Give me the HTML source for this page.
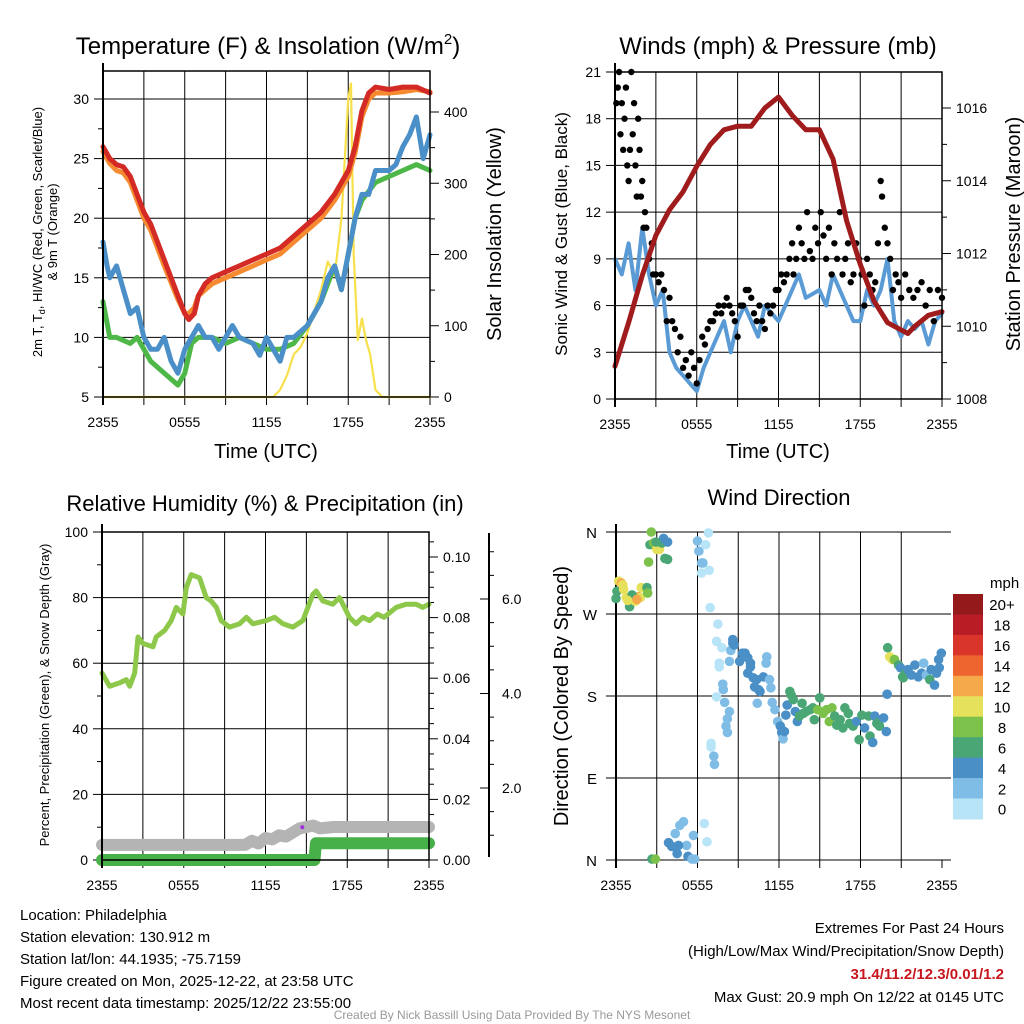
<!DOCTYPE html>
<html><head><meta charset="utf-8"><style>
html,body{margin:0;padding:0;background:#fff;}
svg{display:block;font-family:"Liberation Sans",sans-serif;}
</style></head><body>
<svg id="s" width="1024" height="1024" viewBox="0 0 1024 1024">
<g id="static" fill="#000">
<text x="268" y="54" font-size="24" text-anchor="middle">Temperature (F) &amp; Insolation (W/m<tspan font-size="15" dy="-10">2</tspan><tspan dy="10">)</tspan></text>
<text x="778" y="54" font-size="24" text-anchor="middle">Winds (mph) &amp; Pressure (mb)</text>
<text x="265" y="511" font-size="22" text-anchor="middle">Relative Humidity (%) &amp; Precipitation (in)</text>
<text x="779" y="505" font-size="22" text-anchor="middle">Wind Direction</text>
<text x="266" y="458" font-size="20" text-anchor="middle">Time (UTC)</text>
<text x="778" y="458" font-size="20" text-anchor="middle">Time (UTC)</text>
<text transform="translate(42,232) rotate(-90)" font-size="13" text-anchor="middle">2m T, T<tspan font-size="9" dy="3">d</tspan><tspan dy="-3">, HI/WC (Red, Green, Scarlet/Blue)</tspan></text>
<text transform="translate(57,232) rotate(-90)" font-size="13" text-anchor="middle">&amp; 9m T (Orange)</text>
<text transform="translate(501,234) rotate(-90)" font-size="20" text-anchor="middle">Solar Insolation (Yellow)</text>
<text transform="translate(567,234) rotate(-90)" font-size="17" text-anchor="middle">Sonic Wind &amp; Gust (Blue, Black)</text>
<text transform="translate(1020,234) rotate(-90)" font-size="20" text-anchor="middle">Station Pressure (Maroon)</text>
<text transform="translate(49,695) rotate(-90)" font-size="13" text-anchor="middle">Percent, Precipitation (Green), &amp; Snow Depth (Gray)</text>
<text transform="translate(568,696) rotate(-90)" font-size="20" text-anchor="middle">Direction (Colored By Speed)</text>
<text x="990" y="588" font-size="15">mph</text>
<g font-size="15">
<text x="20" y="920">Location: Philadelphia</text>
<text x="20" y="942">Station elevation: 130.912 m</text>
<text x="20" y="964">Station lat/lon: 44.1935; -75.7159</text>
<text x="20" y="986">Figure created on Mon, 2025-12-22, at 23:58 UTC</text>
<text x="20" y="1008">Most recent data timestamp: 2025/12/22 23:55:00</text>
</g>
<g font-size="15" text-anchor="end">
<text x="1004" y="933">Extremes For Past 24 Hours</text>
<text x="1004" y="956">(High/Low/Max Wind/Precipitation/Snow Depth)</text>
<text x="1004" y="979" fill="#c8161e" font-weight="bold">31.4/11.2/12.3/0.01/1.2</text>
<text x="1004" y="1002">Max Gust: 20.9 mph On 12/22 at 0145 UTC</text>
</g>
<text x="512" y="1019" font-size="12" fill="#999" text-anchor="middle">Created By Nick Bassill Using Data Provided By The NYS Mesonet</text>
</g>
<g id="dyn"></g>
</svg>
<script>
const tRedH=[0,0.5,1,1.5,2,2.5,3,3.5,4,4.5,5,5.5,6,6.3,6.7,7,7.5,8,9,10,11,12,13,14,15,16,17,18,18.5,19,19.5,20,21,22,23,24];
const tRedV=[26,25,24.5,24.3,23.5,22,20.5,19.5,18,16.5,15,13.5,12,11.5,12,13.5,14.5,15,15.5,16,16.5,17,17.5,18.5,19.5,20.5,22,24,26,29,30.5,31,30.8,31,31,30.5];
const tOrgV=[25.6,24.6,24,23.8,23,21.5,20,19,17.5,16,14.6,13.2,12,12,12.5,13.5,14,14.5,15,15.5,16,16.5,17,18,19,20,21.5,23.5,25.5,28.5,30,30.5,30.5,30.6,30.8,30.6];
const tBluH=[0,0.3,0.5,1,1.5,2,2.5,3,3.5,4,4.5,5,5.5,6,6.5,7,7.5,8,8.5,9,9.5,10,11,11.5,12,12.5,13,13.5,14,15,16,16.5,17,17.5,18,18.5,19,19.5,20,21,21.5,22,22.5,23,23.5,24];
const tBluV=[18,16,15,16,14,12,12.5,10,9,9,10,8,7,9,10,11,10,10,9,10,11,10,9.5,8.5,10,9,8,10,10,11,13,15,16,14,17,20,22,22,24,24,24.5,26,27,28.5,25,27];
const tGrnH=[0,0.5,1,2,2.5,3,3.5,4,5,5.5,6,6.5,7,8,9,10,11,12,13,14,15,16,17,17.5,18,18.5,19,20,21,22,23,24];
const tGrnV=[13,10,10,9.5,10,9,8,7.5,6.5,6,7,9.5,10,10,9.5,10,9.5,9,9,9.5,11,13,16,14,17,20,21.5,23,23.5,24,24.5,24];
const solH=[0,12.5,13,13.5,14,14.5,15,15.5,16,16.5,17,17.5,18,18.2,18.4,18.7,19,19.3,19.6,20,20.5,24];
const solV=[0,0,10,30,60,70,90,120,150,190,170,250,420,440,200,80,110,80,60,10,0,0];
const presH=[0,0.5,1,2,3,4,5,6,7,8,9,10,11,12,13,14,15,16,17,18,19,20,21,21.5,22,23,24];
const presV=[1008.9,1009.5,1010.1,1011.4,1012.5,1013.2,1013.7,1014.4,1015,1015.4,1015.5,1015.5,1016,1016.3,1015.8,1015.4,1015.4,1014.6,1012.9,1011.7,1010.7,1010.1,1009.9,1009.8,1010,1010.3,1010.4];
const windH=[0,0.5,1,1.5,2,2.5,3,3.5,4,4.5,5,5.5,6,6.5,7,7.5,8,8.5,9,9.5,10,10.5,11,12,12.5,13,13.5,14,15,15.5,16,16.5,17,17.5,18,18.5,19,19.5,20,20.5,21,21.5,22,22.5,23,23.5,24];
const windV=[9,8,10,7,11,8,6,7,3,2,1.5,1,0.5,2,3,4,5,3,5,6,5,4,6,5,6,7,8,6.5,7,6,8,7,6,5,5,7,6,7,9,5,4,5,4.5,5,3.5,5,5.5];
const gustH=[0.1,0.2,0.3,0.4,0.5,0.6,0.7,0.8,0.9,1,1.1,1.2,1.3,1.4,1.5,1.6,1.7,1.8,1.9,2,2.1,2.2,2.3,2.5,2.7,2.8,3,3.2,3.4,3.6,3.8,4,4.2,4.4,4.6,4.8,5,5.2,5.4,5.6,5.8,6,6.2,6.4,6.6,6.8,7,7.2,7.4,7.6,7.8,8,8.2,8.4,8.6,8.8,9,9.2,9.4,9.6,9.8,10,10.2,10.4,10.6,10.8,11,11.2,11.4,11.6,11.8,12,12.2,12.4,12.6,12.8,13,13.1,13.3,13.5,13.7,13.9,14.1,14.3,14.5,14.7,14.9,15.1,15.3,15.5,15.7,15.9,16.1,16.3,16.5,16.7,16.9,17.1,17.3,17.5,17.7,17.9,18.1,18.3,18.5,18.7,18.9,19.1,19.3,19.5,19.6,19.8,20,20.2,20.4,20.6,20.8,21,21.3,21.6,21.9,22.2,22.5,22.8,23.1,23.4,23.7,24];
const gustV=[19,20,21,17,19,16,18,20,15,14,16,21,17,19,15,13,18,16,13,14,11,12,11,9,10,8,8,7.5,8,7,5,6.5,5,4.5,3,4,2,2.5,1.5,3,2,1,2.5,4,3.5,4.5,5,5,5.5,6,5.5,6,6.5,6,5.5,5,4,6,6,7,7,6.5,5.5,5,6,5,4.5,6,5.5,6,7,7,8,7.5,8,9,10,8,9,11,10,9,12,9.5,9,11,10,12,10.5,9,11,8,10,9,12,8,9,10,7.5,8,10,9,8,6,9,8,7,7.5,10,14,13,11,10,9,7,8,7.5,6.5,8,7,6.5,7,7.5,6,7,5,7,6.5];
const rhH=[0,0.56,1.3,1.78,2.03,2.4,2.64,3.0,3.74,3.98,4.6,5.08,5.45,5.94,6.19,6.55,7.16,7.65,8.0,8.4,8.75,9.36,10.1,10.6,11.08,12.06,12.67,13.28,14.0,14.74,15.48,15.72,16.2,16.94,17.43,18.16,18.65,19.14,19.63,20.2,20.7,21.59,22.32,23.05,23.54,24];
const rhV=[57,53,54,55,53,57,68,66,65,68,70,73,77,75,83,87,86,80,79,77,73,71,72,74,72,73,74,72,71,73,81,82,79,78,80,74,72,74,73,75,74,77,78,78,77,78];
const snowH=[0,10.5,11,11.5,12,12.5,13,13.5,14,14.5,15,15.5,16,17,24];
const snowV=[0.55,0.55,0.7,0.6,0.8,0.75,0.9,0.85,1.0,1.15,1.2,1.25,1.15,1.2,1.2];
const precH=[0,15.6,15.7,24];
const precV=[0,0,0.0055,0.0055];
const dirH=[0,0.07,0.2,0.39,0.56,0.76,1.0,1.18,1.42,1.67,1.79,1.86,2.28,2.33,1.18,0.5,0.86,1.54,2.4,2.5,2.6,2.77,3.0,3.2,3.38,3.5,3.6,3.8,2.95,3.8,2.65,2.9,3.87,4.1,4.36,4.5,4.7,4.97,5.2,5.3,5.6,5.7,5.8,4.6,6.5,6.7,6.0,6.1,6.3,6.4,6.3,6.8,6.6,6.86,6.93,7.5,7.4,7.8,7.6,7.6,7.4,7.86,7.9,8.0,8.35,8.2,8.1,8.2,7.0,7.0,7.2,7.25,8.35,8.45,8.6,8.6,8.7,9.1,9.3,9.5,9.7,9.9,9.9,9.7,10.1,10.2,10.35,10.5,10.6,10.85,11.1,11.05,11.3,11.4,11.5,11.7,11.9,10.4,12.1,12.2,12.3,12.4,12.6,12.5,12.8,12.9,13.05,13.2,13.35,13.5,13.7,13.8,14.0,14.3,14.5,14.6,14.85,15.0,15.25,15.5,15.7,15.9,16.1,16.25,16.5,16.7,16.85,17.1,17.2,17.45,17.7,17.9,18.1,18.3,18.6,18.7,18.9,19.05,19.2,19.4,19.7,19.9,19.96,20.0,20.15,20.35,20.5,20.8,20.95,21.1,21.15,21.3,21.5,21.75,22.0,22.25,22.5,22.65,22.85,23.1,23.2,23.45,23.6,23.75,23.95,23.8];
const dirV=[287,295,306,304,297,288,278,286,284,289,288,299,299,293,291,302,285,286,327,346,360,348,341,341,348,353,331,349,349,330,1,1,19,15,29,7,38,42,16,4,1,27,1,16,40,20,350,339,326,326,315,359,346,318,277,259,240,233,216,212,179,193,187,173,163,155,147,140,128,124,114,105,218,230,242,238,236,218,227,227,222,212,216,205,200,190,198,187,185,201,223,216,198,189,173,165,152,172,147,140,133,141,170,159,185,181,176,163,152,158,172,161,163,165,167,154,165,178,161,165,152,167,158,148,154,145,167,161,150,147,152,132,159,145,158,136,129,158,150,147,156,141,182,233,223,220,220,214,211,201,200,205,209,203,214,201,205,216,203,198,209,192,205,220,227,211];
const dirS=[7,6,10,13,10,10,7,10,10,13,10,10,7,8,7,10,10,13,8,7,8,8,10,10,6,4,6,4,7,6,6,8,4,4,2,4,2,2,2,4,2,2,2,4,0,0,2,2,2,2,0,0,0,0,0,0,0,0,0,0,0,2,2,2,2,2,2,2,0,0,2,2,2,2,4,4,4,4,4,4,4,4,4,4,4,4,4,4,4,4,2,2,2,2,2,2,2,2,4,4,2,4,4,4,6,6,6,4,4,6,6,6,6,6,6,6,8,6,8,8,8,8,6,6,6,6,6,6,6,6,4,6,6,4,6,6,4,4,6,6,4,4,4,6,10,10,8,6,4,6,6,6,4,4,4,4,4,2,2,6,4,4,4,4,4,4];
const cbLabels=["20+","18","16","14","12","10","8","6","4","2","0"];
const cbColors=["#93191b","#b81c24","#d9352a","#ef6530","#f6a94a","#e6e15a","#7cc14a","#4aa674","#4a8fc6","#7fbde6","#b8e4f8"];
const timeLabels=["2355","0555","1155","1755","2355"];

const NS="http://www.w3.org/2000/svg";
const root=document.getElementById('dyn');
function mk(tag,attrs,parent){const e=document.createElementNS(NS,tag);for(const k in attrs)e.setAttribute(k,attrs[k]);(parent||root).appendChild(e);return e;}
function lin(d0,d1,r0,r1){return v=>r0+(v-d0)*(r1-r0)/(d1-d0);}

function frame(name,x0,x1,y0,y1){
  const g=mk('g',{});
  
  
  const xs=lin(0,24,x0,x1);
  for(let h=3;h<24;h+=3){const l=mk('line',{x1:xs(h),x2:xs(h),y1:y0,y2:y1+8,stroke:'#000','stroke-width':1},g);
    
    }
  mk('line',{x1:xs(0),x2:xs(0),y1:y1,y2:y1+8,stroke:'#000'},g);
  mk('line',{x1:xs(24),x2:xs(24),y1:y1,y2:y1+8,stroke:'#000'},g);
  timeLabels.forEach((t,i)=>{const tx=mk('text',{x:xs(i*6),y:y1+30,'font-size':14,'text-anchor':'middle'},g);tx.textContent=t;
    
    });
  return {g,xs};
}
function path(xsA,ysA,xf,yf,stroke,w,name){
  let d='';xsA.forEach((h,i)=>{d+=(i?'L':'M')+xf(h).toFixed(1)+','+yf(ysA[i]).toFixed(1);});
  const p=mk('path',{d,fill:'none',stroke,'stroke-width':w,'stroke-linejoin':'round','stroke-linecap':'round'});
  
  
  return p;
}
function yTicks(g,vals,yf,x,dir,labelFn,grid,x2,fs){
  vals.forEach(v=>{const y=yf(v);
    mk('line',{x1:x,x2:x+dir*9,y1:y,y2:y,stroke:'#000'},g);
    if(grid){const gl=mk('line',{x1:x,x2:x2,y1:y,y2:y,stroke:'#000','stroke-width':1},g);
      
      }
    const t=mk('text',{x:x+dir*14,y:y+5,'font-size':fs||14,'text-anchor':dir<0?'end':'start'},g);t.textContent=labelFn(v);
    
    });
}
function minor(g,vals,yf,x,dir){vals.forEach(v=>mk('line',{x1:x,x2:x+dir*5,y1:yf(v),y2:yf(v),stroke:'#000'},g));}

{const X0=103,X1=430,Y0=71,Y1=397;const f=frame('temperature',X0,X1,Y0,Y1);const g=f.g,xs=f.xs;
 const yT=lin(5,30,397,99), yS=lin(0,400,397,112);
 yTicks(g,[5,10,15,20,25,30],yT,X0,-1,v=>v,true,X1);
 minor(g,[7.5,12.5,17.5,22.5,27.5],yT,X0,-1);
 yTicks(g,[0,100,200,300,400],yS,X1,1,v=>v,false);
 minor(g,[50,150,250,350],yS,X1,1);
 path(solH,solV,xs,yS,'#f7e04a',2.2,'insolation-line');
 path(tGrnH,tGrnV,xs,yT,'#4db848',5,'dewpoint-line');
 path(tBluH,tBluV,xs,yT,'#4a8fc8',5,'windchill-line');
 path(tRedH,tOrgV,xs,yT,'#f58a30',5,'temp-9m-line');
 path(tRedH,tRedV,xs,yT,'#d42a25',5,'temp-2m-line');
 mk('rect',{x:X0,y:Y0,width:X1-X0,height:Y1-Y0,fill:'none',stroke:'#000','stroke-width':1.5});
 mk('line',{x1:X0,x2:X0,y1:63,y2:Y1+8,stroke:'#000','stroke-width':2});
}
{const X0=615,X1=942,Y0=72,Y1=399;const f=frame('winds',X0,X1,Y0,Y1);const g=f.g,xs=f.xs;
 const yW=lin(0,21,399,72), yP=lin(1008,1016,399,108);
 yTicks(g,[0,3,6,9,12,15,18,21],yW,X0,-1,v=>v,true,X1);
 yTicks(g,[1008,1010,1012,1014,1016],yP,X1,1,v=>v,false);
 minor(g,[1009,1011,1013,1015],yP,X1,1);
 path(windH,windV,xs,yW,'#5a9bd5',4,'sonic-wind-line');
 gustH.forEach((h,i)=>{const c=mk('circle',{cx:xs(h),cy:yW(gustV[i]),r:3.2,fill:'#000'});
   
   });
 path(presH,presV,xs,yP,'#a01c1c',5,'pressure-line');
 mk('rect',{x:X0,y:Y0,width:X1-X0,height:Y1-Y0,fill:'none',stroke:'#000','stroke-width':1.5});
 mk('line',{x1:X0,x2:X0,y1:63,y2:Y1+8,stroke:'#000','stroke-width':2});
}
{const X0=102,X1=429,Y0=532,Y1=860;const f=frame('humidity',X0,X1,Y0,Y1);const g=f.g,xs=f.xs;
 const yR=lin(0,100,860,532), yPr=lin(0,0.1,860,557), ySn=lin(0,1,860,832.5);
 yTicks(g,[0,20,40,60,80,100],yR,X0,-1,v=>v,true,X1);
 minor(g,[10,30,50,70,90],yR,X0,-1);
 yTicks(g,[0,0.02,0.04,0.06,0.08,0.1],yPr,X1,1,v=>v.toFixed(2),false);
 minor(g,[0.005,0.01,0.015,0.025,0.03,0.035,0.045,0.05,0.055,0.065,0.07,0.075,0.085,0.09,0.095,0.105],yPr,X1,1);
 const snowAxis=lin(2,6,788,599);
 mk('line',{x1:489,x2:489,y1:533,y2:857,stroke:'#000','stroke-width':2},g);
 yTicks(g,[2,4,6],snowAxis,489,-1,v=>'',false);
 [2,4,6].forEach(v=>{const t=mk('text',{x:502,y:snowAxis(v)+5,'font-size':14},g);t.textContent=v.toFixed(1);
   
   });
 minor(g,[1,1.5,2.5,3,3.5,4.5,5,5.5,6.5,7],snowAxis,489,1);
 path(rhH,rhV,xs,yR,'#8dc84a',5,'humidity-line');
 path(snowH,snowV,xs,ySn,'#b4b4b4',12,'snow-depth-line');
 path(precH,precV,xs,yPr,'#48b048',12,'precip-line');
 const pd=mk('circle',{cx:xs(14.7),cy:yR(10),r:2,fill:'#a030e0'});
 
 
 mk('rect',{x:X0,y:Y0,width:X1-X0,height:Y1-Y0,fill:'none',stroke:'#000','stroke-width':1.5});
 mk('line',{x1:X0,x2:X0,y1:524,y2:Y1+8,stroke:'#000','stroke-width':2});
}
{const X0=616,X1=942,Y0=532,Y1=860;const f=frame('direction',X0,X1,Y0,Y1);const g=f.g,xs=f.xs;
 const yD=lin(0,360,860,532);
 const dl=['N','E','S','W','N'];
 [0,90,180,270,360].forEach((v,i)=>{const y=yD(v);mk('line',{x1:606,x2:951,y1:y,y2:y,stroke:'#000'},g);
   const t=mk('text',{x:597,y:y+6,'font-size':15,'text-anchor':'end'},g);t.textContent=dl[i];
   
   });
 mk('line',{x1:X0,x2:X0,y1:524,y2:Y1+8,stroke:'#000','stroke-width':2},g);
 dirH.forEach((h,i)=>{const b=Math.min(10,Math.floor(dirS[i]/2));
   const c=mk('circle',{cx:xs(h),cy:yD(dirV[i]),r:4.8,fill:cbColors[10-b]});
   
   });
 const bh=20.45;
 cbLabels.forEach((l,i)=>{const r=mk('rect',{x:953,y:594+i*bh,width:30,height:bh+0.5,fill:cbColors[i]});
   
   
   const t=mk('text',{x:1002,y:594+i*bh+bh/2+6,'font-size':15,'text-anchor':'middle'});t.textContent=l;
   
   });
}
</script>
</body></html>
